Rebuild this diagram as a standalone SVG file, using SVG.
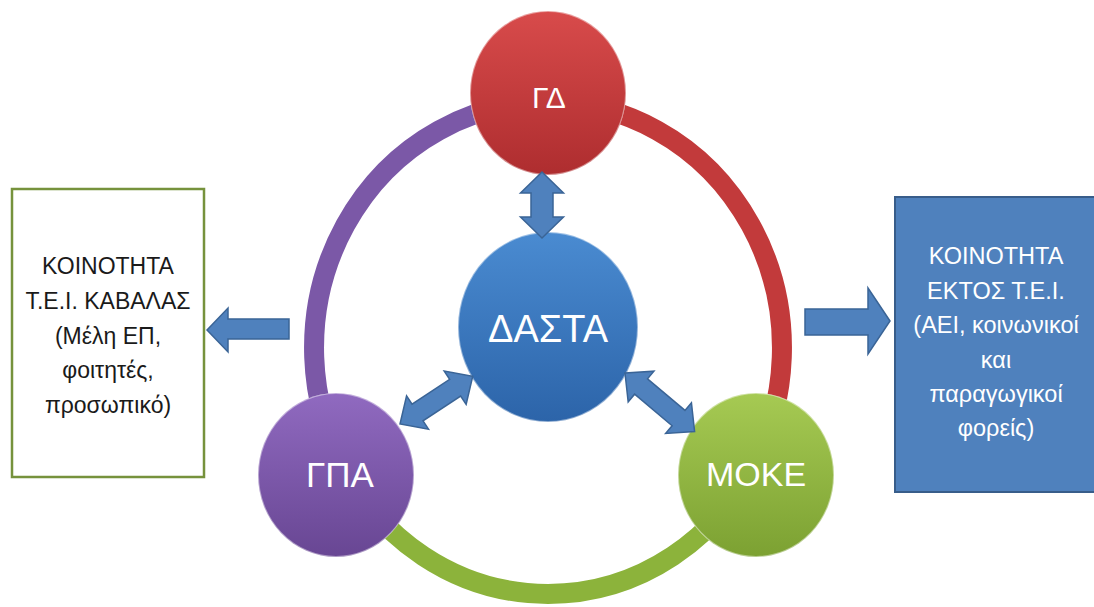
<svg xmlns="http://www.w3.org/2000/svg" width="1094" height="607" viewBox="0 0 1094 607">
<style>
.lbl{font-family:"Liberation Sans","Noto Sans",sans-serif;fill:#ffffff;text-anchor:middle}
.box{font-family:"Liberation Sans","Noto Sans",sans-serif;text-anchor:middle}
.arrow{fill:#4F81BD;stroke:#3A6496;stroke-width:1.5;stroke-linejoin:miter}
.ring{fill:none;stroke-width:20;stroke-linecap:butt}
.rim{stroke:#ffffff;stroke-opacity:0.45;stroke-width:2}
</style>
<defs>
<linearGradient id="gRed" x1="0" y1="0" x2="0" y2="1">
<stop offset="0" stop-color="#D84B4B"/><stop offset="1" stop-color="#AE2D2F"/>
</linearGradient>
<linearGradient id="gBlue" x1="0" y1="0" x2="0" y2="1">
<stop offset="0" stop-color="#4A8BD1"/><stop offset="1" stop-color="#2C64A9"/>
</linearGradient>
<linearGradient id="gPurple" x1="0" y1="0" x2="0" y2="1">
<stop offset="0" stop-color="#906AC0"/><stop offset="1" stop-color="#684693"/>
</linearGradient>
<linearGradient id="gGreen" x1="0" y1="0" x2="0" y2="1">
<stop offset="0" stop-color="#A6CA53"/><stop offset="1" stop-color="#7CA132"/>
</linearGradient>
<mask id="ringMask" maskUnits="userSpaceOnUse" x="0" y="0" width="1094" height="607">
<rect x="0" y="0" width="1094" height="607" fill="#fff"/>
<ellipse cx="548" cy="93" rx="78" ry="82" fill="#000"/>
<ellipse cx="336" cy="475" rx="78" ry="82" fill="#000"/>
<ellipse cx="756" cy="475" rx="78" ry="82" fill="#000"/>
</mask>
</defs>
<rect x="0" y="0" width="1094" height="607" fill="#ffffff"/>

<g id="node-left-box">
<rect x="12" y="189" width="192" height="288" fill="#ffffff" stroke="#76923C" stroke-width="2.5"/>
<g class="box" font-size="23" fill="#1a1a1a">
<text x="108" y="274">ΚΟΙΝΟΤΗΤΑ</text>
<text x="108" y="309">Τ.Ε.Ι. ΚΑΒΑΛΑΣ</text>
<text x="108" y="344">(Μέλη ΕΠ,</text>
<text x="108" y="378">φοιτητές,</text>
<text x="108" y="413">προσωπικό)</text>
</g>
</g>

<g id="node-right-box">
<rect x="895" y="197" width="210" height="295" fill="#4F81BD" stroke="#385D8A" stroke-width="2"/>
<g class="box" font-size="23.5" fill="#ffffff">
<text x="996" y="264">ΚΟΙΝΟΤΗΤΑ</text>
<text x="996" y="299">ΕΚΤΟΣ Τ.Ε.Ι.</text>
<text x="996" y="333">(ΑΕΙ, κοινωνικοί</text>
<text x="996" y="368">και</text>
<text x="996" y="402">παραγωγικοί</text>
<text x="996" y="436">φορείς)</text>
</g>
</g>

<g id="node-GD">
<ellipse cx="548" cy="93" rx="78" ry="82" fill="url(#gRed)" class="rim"/>
<text class="lbl" x="549" y="108" font-size="30">ΓΔ</text>
</g>

<g id="node-DASTA">
<ellipse cx="548" cy="327" rx="90" ry="95" fill="url(#gBlue)" class="rim"/>
<text class="lbl" x="548" y="342" font-size="38">ΔΑΣΤΑ</text>
</g>

<g id="node-GPA">
<ellipse cx="336" cy="475" rx="78" ry="82" fill="url(#gPurple)" class="rim"/>
<text class="lbl" x="340" y="487" font-size="35">ΓΠΑ</text>
</g>

<g id="node-MOKE">
<ellipse cx="756" cy="475" rx="78" ry="82" fill="url(#gGreen)" class="rim"/>
<text class="lbl" x="756" y="486" font-size="34">ΜΟΚΕ</text>
</g>

<g id="connectors">
<g mask="url(#ringMask)">
<path class="ring" stroke="#7B58A7" d="M 345.4 471 A 234 246 0 0 1 548 102"/>
<path class="ring" stroke="#C23A3B" d="M 548 102 A 234 246 0 0 1 750.6 471"/>
<path class="ring" stroke="#8CB33B" d="M 750.6 471 A 234 246 0 0 1 345.4 471"/>
</g>
<polygon class="arrow" points="207,330 228,308 228,319 289,319 289,339 228,339 228,352"/>
<polygon class="arrow" points="890,321 868,288 868,309 805,309 805,335 868,335 868,354"/>
<polygon class="arrow" points="542,172 563.5,193 553,193 553,217 563.5,217 542,238 520.5,217 531,217 531,193 520.5,193"/>
<polygon class="arrow" transform="translate(400,424) rotate(-33.3)" points="0,0 21,-20 21,-10 66,-10 66,-20 87,0 66,20 66,10 21,10 21,20"/>
<polygon class="arrow" transform="translate(625,373) rotate(40.1)" points="0,0 21,-20 21,-10 70,-10 70,-20 91,0 70,20 70,10 21,10 21,20"/>
</g>
</svg>
